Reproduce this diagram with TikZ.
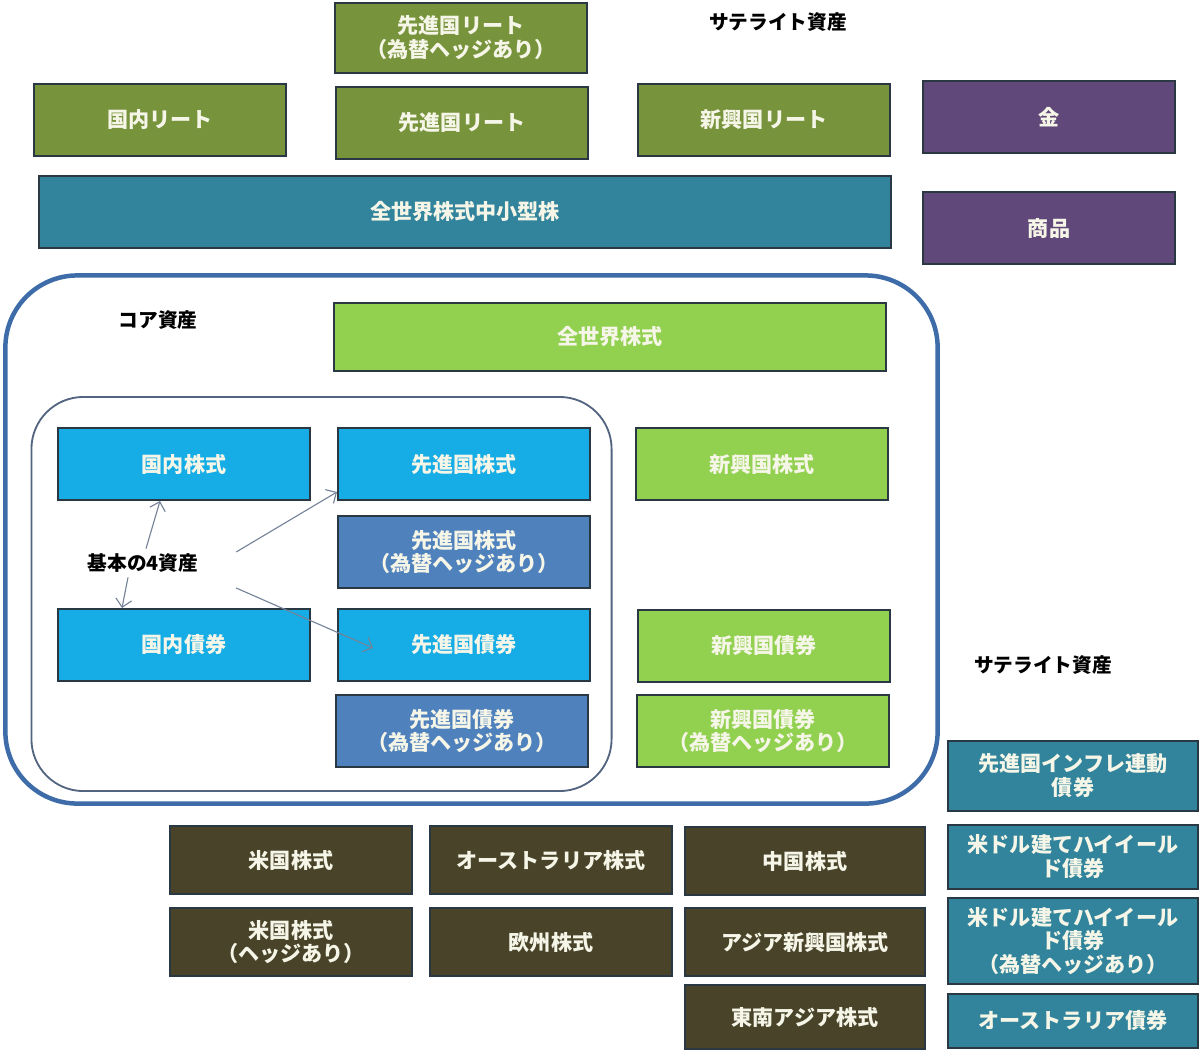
\documentclass[tikz,border=0pt]{standalone}
\usepackage{fontspec}
\newfontfamily\jp{Noto Sans CJK JP}
\usepackage{tikz}
\usetikzlibrary{arrows.meta, positioning, calc}
\definecolor{reitvert}{RGB}{119,147,60}
\definecolor{violet}{RGB}{96,73,122}
\definecolor{sarcelle}{RGB}{49,132,155}
\definecolor{vertclair}{RGB}{146,208,80}
\definecolor{cyan}{RGB}{22,172,230}
\definecolor{acier}{RGB}{79,129,189}
\definecolor{brun}{RGB}{73,68,41}
\definecolor{bord}{RGB}{42,56,68}
\definecolor{cadre}{RGB}{62,108,168}
\definecolor{cadrein}{RGB}{82,100,128}
\definecolor{texte}{RGB}{246,246,232}

\begin{document}
\begin{tikzpicture}[x=0.025cm, y=-0.025cm,
				>={Straight Barb[length=2mm]},
				box/.style={draw=bord, line width=1.4pt, text=texte,
					minimum width=6.3cm, minimum height=1.8cm,
					align=center, inner sep=1pt,
					font=\jp\bfseries\fontsize{15}{17}\selectfont},
				lbl/.style={font=\jp\bfseries\fontsize{14}{16}\selectfont},
				arr/.style={->, draw=cadrein!80, line width=0.8pt}
				]
				\useasboundingbox (0,0) rectangle (1200,1051);
				
				% Cadres
				\node[draw=cadre, line width=3.2pt, rounded corners=1.8cm,
				minimum width=23.3cm, minimum height=13.2cm] (core) at (471.5,539.5) {};
				\node[draw=cadrein, line width=1.3pt, rounded corners=1.3cm,
				minimum width=14.5cm, minimum height=9.85cm] (base) at (321.5,594) {};
				
				% Satellites (haut)
				\node[lbl] (sat1) at (778,22) {サテライト資産};
				\node[box, fill=reitvert, minimum height=1.75cm] (freith) at (461,38) {先進国リート\\（為替ヘッジあり）};
				\node[box, fill=reitvert] (dreit) at (160,120) {国内リート};
				\node[box, fill=reitvert] (freit) at (462,123) {先進国リート};
				\node[box, fill=reitvert] (ereit) at (764,120) {新興国リート};
				\node[box, fill=violet] (gold) at (1049,117) {金};
				\node[box, fill=sarcelle, minimum width=21.3cm] (small) at (465,212) {全世界株式中小型株};
				\node[box, fill=violet] (comm) at (1049,228) {商品};
				
				% Coeur
				\node[lbl] (corelbl) at (158,320) {コア資産};
				\node[box, fill=vertclair, minimum width=13.8cm, minimum height=1.7cm] (world) at (610,337) {全世界株式};
				\node[box, fill=cyan] (dstock) at (184,464) {国内株式};
				\node[box, fill=cyan] (fstock) at (464,464) {先進国株式};
				\node[box, fill=acier] (fstockh) at (464,552) {先進国株式\\（為替ヘッジあり）};
				\node[box, fill=cyan] (dbond) at (184,645) {国内債券};
				\node[box, fill=cyan] (fbond) at (464,645) {先進国債券};
				\node[box, fill=acier] (fbondh) at (462,731) {先進国債券\\（為替ヘッジあり）};
				\node[box, fill=vertclair] (estock) at (762,464) {新興国株式};
				\node[box, fill=vertclair] (ebond) at (764,646) {新興国債券};
				\node[box, fill=vertclair] (ebondh) at (763,731) {新興国債券\\（為替ヘッジあり）};
				
				\node[lbl] (basic) at (143,563) {基本の4資産};
				\draw[arr] ($(basic.north)+(3,0)$) -- ($(dstock.south)+(-24,0)$);
				\draw[arr] ($(basic.east)+(33,-11)$) -- ($(fstock.west)+(0,28)$);
				\draw[arr] ($(basic.south)+(-15,0)$) -- ($(dbond.north)+(-62,0)$);
				\draw[arr] ($(basic.east)+(33,25)$) -- ($(fbond.west)+(36,3)$);
				
				% Satellites (bas)
				\node[box, fill=brun, minimum width=6.05cm, minimum height=1.72cm] (usst) at (291,860) {米国株式};
				\node[box, fill=brun, minimum width=6.05cm, minimum height=1.72cm] (aust) at (551,860) {オーストラリア株式};
				\node[box, fill=brun, minimum width=6.0cm, minimum height=1.72cm] (cnst) at (805,861) {中国株式};
				\node[box, fill=brun, minimum width=6.05cm, minimum height=1.72cm] (usst2) at (291,942) {米国株式\\（ヘッジあり）};
				\node[box, fill=brun, minimum width=6.05cm, minimum height=1.72cm] (eust) at (551,942) {欧州株式};
				\node[box, fill=brun, minimum width=6.0cm, minimum height=1.72cm] (asst) at (805,942) {アジア新興国株式};
				\node[box, fill=brun, minimum width=6.0cm, minimum height=1.6cm] (sast) at (805,1017) {東南アジア株式};
				
				% Satellites (droite)
				\node[lbl] (sat2) at (1043,665) {サテライト資産};
				\node[box, fill=sarcelle, minimum width=6.25cm, minimum height=1.75cm] (infl) at (1073,776) {先進国インフレ連動\\債券};
				\node[box, fill=sarcelle, minimum width=6.25cm, minimum height=1.6cm] (hy) at (1073,857) {米ドル建てハイイール\\ド債券};
				\node[box, fill=sarcelle, minimum width=6.25cm, minimum height=2.15cm] (hyh) at (1073,941) {米ドル建てハイイール\\ド債券\\（為替ヘッジあり）};
				\node[box, fill=sarcelle, minimum width=6.25cm, minimum height=1.35cm] (aubd) at (1073,1021) {オーストラリア債券};
			\end{tikzpicture}
\end{document}
